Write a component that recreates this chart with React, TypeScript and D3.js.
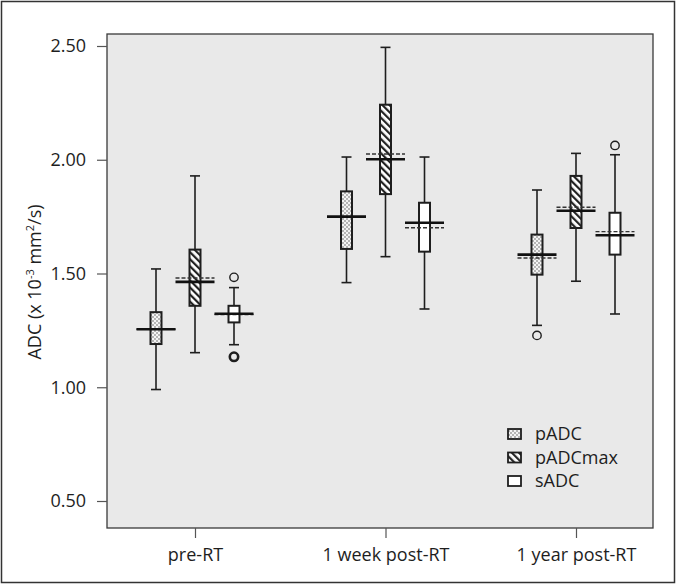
// App.tsx - ADC box plot by time point

import React, {useRef, useEffect} from 'react';
import * as d3 from 'd3';

// data
const groups = ['pre-RT', '1 week post-RT', '1 year post-RT'];
const seriesNames = ['pADC', 'pADCmax', 'sADC'];
// each row: [whiskerLow, q1, median, mean, q3, whiskerHigh]
const pADCStats = [
    [0.99, 1.19, 1.255, 1.255, 1.33, 1.52],
    [1.46, 1.608, 1.75, 1.75, 1.861, 2.012],
    [1.272, 1.495, 1.583, 1.568, 1.671, 1.867],
];
const pADCmaxStats = [
    [1.152, 1.358, 1.463, 1.48, 1.605, 1.929],
    [1.574, 1.849, 2.002, 2.025, 2.242, 2.494],
    [1.466, 1.70, 1.776, 1.791, 1.929, 2.028],
];
const sADCStats = [
    [1.187, 1.285, 1.323, 1.32, 1.358, 1.438],
    [1.344, 1.596, 1.723, 1.701, 1.811, 2.012],
    [1.322, 1.583, 1.668, 1.684, 1.767, 2.022],
];
// outliers: [groupIdx, seriesIdx, value, bold]
const outliers = [
    [0, 2, 1.483, 0],
    [0, 2, 1.134, 1],
    [2, 0, 1.228, 0],
    [2, 2, 2.063, 0],
];
const yTicks = [0.5, 1.0, 1.5, 2.0, 2.5];

const allStats = [pADCStats, pADCmaxStats, sADCStats];
const fills = ['url(#dots)', 'url(#hatch)', '#fff'];

export default function App(){
    const svgRef = useRef(null);

    useEffect(() => {
        const svg = d3.select(svgRef.current);
        svg.selectAll('*').remove();

        const plot = {left: 107, top: 34, right: 653, bottom: 528};
        const font = '"Open Sans", "Noto Sans", sans-serif';
        const ink = '#1e1e1e';

        // patterns
        const defs = svg.append('defs');
        const dots = defs.append('pattern')
            .attr('id', 'dots').attr('patternUnits', 'userSpaceOnUse')
            .attr('width', 4).attr('height', 4);
        dots.append('rect').attr('width', 4).attr('height', 4).attr('fill', '#f4f4f4');
        dots.append('circle').attr('cx', 1).attr('cy', 1).attr('r', 0.8).attr('fill', '#666');
        dots.append('circle').attr('cx', 3).attr('cy', 3).attr('r', 0.8).attr('fill', '#666');
        const hatch = defs.append('pattern')
            .attr('id', 'hatch').attr('patternUnits', 'userSpaceOnUse')
            .attr('width', 5).attr('height', 5)
            .attr('patternTransform', 'rotate(-45)');
        hatch.append('rect').attr('width', 5).attr('height', 5).attr('fill', '#fff');
        hatch.append('rect').attr('x', 0).attr('width', 2.2).attr('height', 5).attr('fill', '#222');

        // outer frame
        svg.append('rect')
            .attr('x', 1.5).attr('y', 1.5).attr('width', 673).attr('height', 581)
            .attr('fill', '#fff').attr('stroke', '#333').attr('stroke-width', 1.5);

        // scales
        const yScale = d3.scaleLinear()
            .domain([0.5, 2.5])
            .range([501, 46]);
        const xScale = d3.scalePoint()
            .domain(groups)
            .range([195, 576]);
        const sScale = d3.scalePoint()
            .domain(seriesNames)
            .range([-39, 39]);

        // plot area
        svg.append('rect')
            .attr('x', plot.left).attr('y', plot.top)
            .attr('width', plot.right - plot.left).attr('height', plot.bottom - plot.top)
            .attr('fill', '#e9e9e9').attr('stroke', '#3a3a3a').attr('stroke-width', 1.3);

        // axes
        const yAxis = svg.append('g')
            .attr('transform', `translate(${plot.left},0)`)
            .call(d3.axisLeft(yScale).tickValues(yTicks).tickFormat(d3.format('.2f')).tickSize(10).tickPadding(11));
        const xAxis = svg.append('g')
            .attr('transform', `translate(0,${plot.bottom})`)
            .call(d3.axisBottom(xScale).tickSize(10).tickPadding(10));
        [yAxis, xAxis].forEach((ax) => {
            ax.select('.domain').remove();
            ax.selectAll('line').attr('stroke', '#555').attr('stroke-width', 1.2);
            ax.selectAll('text').attr('fill', ink).attr('font-family', font).attr('font-size', 18);
        });

        // y label
        const yLabel = svg.append('text')
            .attr('transform', 'translate(41,282) rotate(-90)')
            .attr('text-anchor', 'middle')
            .attr('font-family', font).attr('font-size', 18).attr('fill', ink);
        yLabel.append('tspan').text('ADC (x 10');
        yLabel.append('tspan').attr('dy', -7).attr('font-size', 11).text('-3');
        yLabel.append('tspan').attr('dy', 7).text(' mm');
        yLabel.append('tspan').attr('dy', -7).attr('font-size', 11).text('2');
        yLabel.append('tspan').attr('dy', 7).text('/s)');

        // boxes
        const boxW = 11;
        const capW = 10;
        const lineW = 39;
        allStats.forEach((statsArr, si) => {
            statsArr.forEach((st, gi) => {
                const [lo, q1, med, mean, q3, hi] = st;
                const cx = xScale(groups[gi]) + sScale(seriesNames[si]);
                const g = svg.append('g');
                g.append('line')
                    .attr('x1', cx).attr('x2', cx).attr('y1', yScale(hi)).attr('y2', yScale(lo))
                    .attr('stroke', ink).attr('stroke-width', 1.6);
                [lo, hi].forEach((v) => {
                    g.append('line')
                        .attr('x1', cx - capW / 2).attr('x2', cx + capW / 2)
                        .attr('y1', yScale(v)).attr('y2', yScale(v))
                        .attr('stroke', ink).attr('stroke-width', 1.6);
                });
                g.append('rect')
                    .attr('x', cx - boxW / 2).attr('y', yScale(q3))
                    .attr('width', boxW).attr('height', yScale(q1) - yScale(q3))
                    .attr('fill', fills[si]).attr('stroke', ink).attr('stroke-width', 2);
                g.append('line')
                    .attr('x1', cx - lineW / 2).attr('x2', cx + lineW / 2)
                    .attr('y1', yScale(mean)).attr('y2', yScale(mean))
                    .attr('stroke', '#333').attr('stroke-width', 1.4).attr('stroke-dasharray', '4,2');
                g.append('line')
                    .attr('x1', cx - lineW / 2).attr('x2', cx + lineW / 2)
                    .attr('y1', yScale(med)).attr('y2', yScale(med))
                    .attr('stroke', '#111').attr('stroke-width', 2.6);
            });
        });

        // outliers
        svg.selectAll('circle.out')
            .data(outliers)
            .enter()
            .append('circle')
            .attr('class', 'out')
            .attr('cx', (d) => xScale(groups[d[0]]) + sScale(seriesNames[d[1]]))
            .attr('cy', (d) => yScale(d[2]))
            .attr('r', 4.2)
            .attr('fill', 'none')
            .attr('stroke', ink)
            .attr('stroke-width', (d) => d[3] ? 2.6 : 1.4);

        // legend
        const legend = svg.append('g').attr('transform', 'translate(508,434)');
        seriesNames.forEach((name, i) => {
            const row = legend.append('g').attr('transform', `translate(0,${i * 23.5})`);
            row.append('rect')
                .attr('x', 0).attr('y', -5).attr('width', 13).attr('height', 10)
                .attr('fill', fills[i]).attr('stroke', ink).attr('stroke-width', 1.8);
            row.append('text')
                .attr('x', 27).attr('y', 6)
                .attr('font-family', font).attr('font-size', 18).attr('fill', ink)
                .text(name);
        });
    }, []);

    return (
        <svg ref={svgRef} width={678} height={587} style={{position: 'absolute', left: 0, top: 0}}></svg>
    );
}
